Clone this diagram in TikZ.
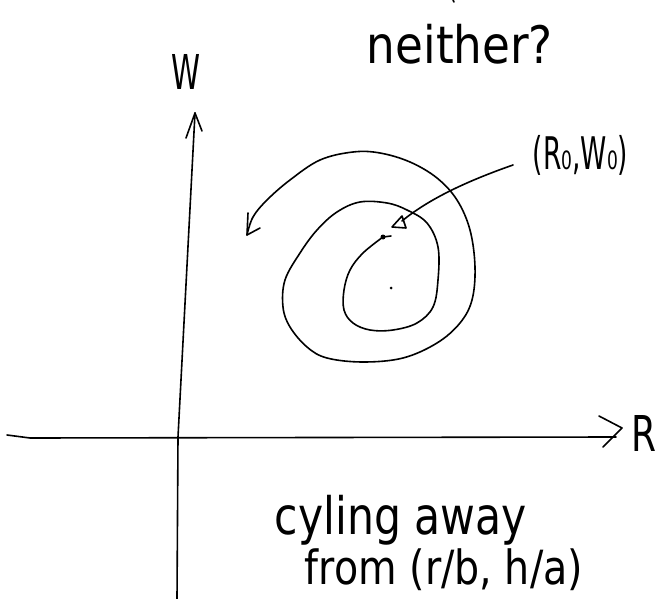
\documentclass[tikz,border=0pt]{standalone}
\usepackage{fontspec}
\setmainfont{DejaVu Sans}
\newcommand{\fitbox}[3]{\resizebox*{#1pt}{#2pt}{#3}}
\begin{document}
\begin{tikzpicture}[x=1pt,y=-1pt,
  ink/.style={draw=black, line width=1.6pt, line cap=round, line join=round},
  lbl/.style={inner sep=0pt, outer sep=0pt}]
\useasboundingbox (0,0) rectangle (659,599);

% labels
\node[lbl] (neither) at (460,44) {\fitbox{186}{40}{neither?}};
\node[lbl] (wlab) at (185.5,71.5) {\fitbox{29}{35}{W}};
\node[lbl] (rlab) at (643.5,433) {\fitbox{25}{36}{R}};
\node[lbl] (eq) at (580.5,155.5) {\fitbox{95}{40}{(R₀,W₀)}};
\node[lbl] (cyc) at (401,520) {\fitbox{252}{50}{cyling away}};
\node[lbl] (from) at (444,570) {\fitbox{278}{42}{from (r/b, h/a)}};

% axes
\coordinate (wbot) at (177,599);
\coordinate (worg) at (178,437);
\coordinate (wtip) at (195,113);
\coordinate (wbl) at (186,138);
\coordinate (wbr) at (202,131);
\draw[ink] (wbot) -- (worg) -- (wtip);
\draw[ink] (wbl) -- (wtip) -- (wbr);

\coordinate (rleft) at (7,435);
\coordinate (rl2) at (30,438);
\coordinate (rtip) at (616,437);
\coordinate (rbu) at (599,416);
\coordinate (rbt) at (622,428);
\coordinate (rbl) at (603,447);
\draw[ink] (rleft) -- (rl2) -- (rtip);
\draw[ink] (rbu) -- (rbt) -- (rbl);

% spiral
\coordinate (sstart) at (383,237);
\coordinate (send) at (247,235);
\draw[ink] plot[smooth, tension=0.6] coordinates {
 (383,237) (363,253) (350,270) (344,290) (344,310) (353,323) (370,330)
 (393,330) (417,323) (433,307) (438,280) (438,247) (427,223) (407,210)
 (387,203) (360,202) (337,212) (317,230) (300,253) (285,280) (283,307)
 (290,327) (307,347) (327,358) (363,362) (403,358) (437,343) (460,323)
 (472,300) (475,267) (470,230) (457,200) (437,178) (410,162) (380,153)
 (353,152) (320,160) (290,180) (267,200) (253,217) (247,235)};
\coordinate (sb1) at (248,213);
\coordinate (sb2) at (260,228);
\draw[ink] (sb1) -- (send) -- (sb2);

% marks
\fill (sstart) circle (2.5pt);
\draw[ink] (sstart) -- ++(8,-1);
\node[circle, fill=black, inner sep=0pt, minimum size=3pt] (ctr) at (391,288) {};
\coordinate (topmark) at (453,0);
\draw[ink] (topmark) -- ++(1,2);

% arrow to (R0,W0)
\coordinate (a0) at (513,165);
\coordinate (atip) at (392,227);
\draw[ink] (a0) .. controls (470,180) and (430,198) .. (402,221);
\draw[ink] (atip) -- (402,216) -- (406,228) -- cycle;
\end{tikzpicture}
\end{document}
